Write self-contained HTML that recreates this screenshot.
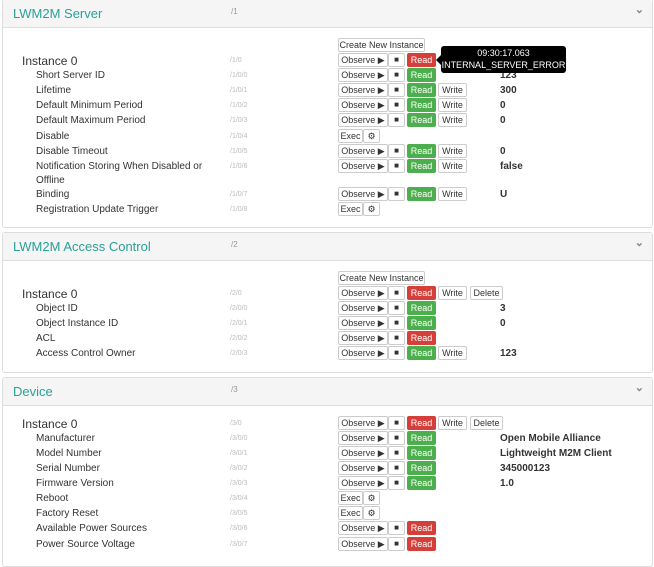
<!DOCTYPE html>
<html><head><meta charset="utf-8"><style>
*{margin:0;padding:0;box-sizing:border-box}
body{width:654px;height:552px;overflow:hidden;background:#fff;font-family:"Liberation Sans",sans-serif;position:relative;color:#333}
.pn{position:absolute;left:2px;width:651px;border:1px solid #ddd;border-radius:3px;background:#fff}
.hd{position:absolute;left:0;right:0;top:0;height:28px;background:#f5f5f5;border-bottom:1px solid #ddd}
.t{position:absolute;left:10px;top:6px;font-size:13px;color:#2aa198}
.hp{position:absolute;left:228px;top:7px;font-size:8px;color:#999}
.cv{position:absolute;right:8px;top:3px;font-size:11px;color:#888;font-weight:bold}
.r{position:absolute;left:0;width:654px;height:14px}
.n{position:absolute;left:36px;top:2px;font-size:10px;white-space:nowrap}
.i{left:22px;font-size:12px;top:1px}
.p{position:absolute;left:230px;top:4px;font-size:7px;color:#bbb}
.b{position:absolute;top:0;height:14px;border:1px solid #ccc;border-radius:2px;font-size:9px;line-height:12px;text-align:center;background:#fff;color:#333}
.ob{left:338px;width:50px}
.st{left:388px;width:17px;font-size:8px}
.rd{left:407px;width:29px;color:#fff;border-color:transparent}
.g{background:#4cae4c}.e{background:#d43f3a}
.wr{left:438px;width:29px}
.dl{left:470px;width:33px}
.ex{left:338px;width:25px}
.gr{left:363px;width:17px}
.v{position:absolute;left:500px;top:2px;font-size:10px;font-weight:bold}
.cr{position:absolute;left:338px;width:87px;height:14px;border:1px solid #ccc;border-radius:2px;font-size:9px;line-height:12px;text-align:center}
</style></head><body>

<div class="pn" style="top:-1px;height:229px"><div class="hd"><span class="t">LWM2M Server</span><span class="hp">/1</span><span class="cv">&#8964;</span></div></div>
<div class="cr" style="top:38px">Create New Instance</div>
<div class="r" style="top:53px"><span class="n i">Instance 0</span><span class="p">/1/0</span><span class="b ob">Observe ▶</span><span class="b st">■</span><span class="b rd e">Read</span></div>
<div class="r" style="top:68px"><span class="n">Short Server ID</span><span class="p">/1/0/0</span><span class="b ob">Observe ▶</span><span class="b st">■</span><span class="b rd g">Read</span><span class="v">123</span></div>
<div class="r" style="top:83px"><span class="n">Lifetime</span><span class="p">/1/0/1</span><span class="b ob">Observe ▶</span><span class="b st">■</span><span class="b rd g">Read</span><span class="b wr">Write</span><span class="v">300</span></div>
<div class="r" style="top:98px"><span class="n">Default Minimum Period</span><span class="p">/1/0/2</span><span class="b ob">Observe ▶</span><span class="b st">■</span><span class="b rd g">Read</span><span class="b wr">Write</span><span class="v">0</span></div>
<div class="r" style="top:113px"><span class="n">Default Maximum Period</span><span class="p">/1/0/3</span><span class="b ob">Observe ▶</span><span class="b st">■</span><span class="b rd g">Read</span><span class="b wr">Write</span><span class="v">0</span></div>
<div class="r" style="top:129px"><span class="n">Disable</span><span class="p">/1/0/4</span><span class="b ex">Exec</span><span class="b gr">⚙</span></div>
<div class="r" style="top:144px"><span class="n">Disable Timeout</span><span class="p">/1/0/5</span><span class="b ob">Observe ▶</span><span class="b st">■</span><span class="b rd g">Read</span><span class="b wr">Write</span><span class="v">0</span></div>
<div class="r" style="top:159px"><span class="n">Notification Storing When Disabled or</span><span class="p">/1/0/6</span><span class="b ob">Observe ▶</span><span class="b st">■</span><span class="b rd g">Read</span><span class="b wr">Write</span><span class="v">false</span></div>
<div class="r" style="top:173px"><span class="n">Offline</span></div>
<div class="r" style="top:187px"><span class="n">Binding</span><span class="p">/1/0/7</span><span class="b ob">Observe ▶</span><span class="b st">■</span><span class="b rd g">Read</span><span class="b wr">Write</span><span class="v">U</span></div>
<div class="r" style="top:202px"><span class="n">Registration Update Trigger</span><span class="p">/1/0/8</span><span class="b ex">Exec</span><span class="b gr">⚙</span></div>

<div style="position:absolute;left:436px;top:55px;width:0;height:0;border:5px solid transparent;border-right-color:#000;border-left:0"></div>
<div style="position:absolute;left:441px;top:46px;width:125px;height:27px;background:#000;border-radius:3px;color:#fff;font-size:9px;text-align:center;line-height:12px;padding-top:1px;white-space:nowrap">09:30:17.063<br>INTERNAL_SERVER_ERROR</div>

<div class="pn" style="top:232px;height:141px"><div class="hd"><span class="t">LWM2M Access Control</span><span class="hp">/2</span><span class="cv">&#8964;</span></div></div>
<div class="cr" style="top:271px">Create New Instance</div>
<div class="r" style="top:286px"><span class="n i">Instance 0</span><span class="p">/2/0</span><span class="b ob">Observe ▶</span><span class="b st">■</span><span class="b rd e">Read</span><span class="b wr">Write</span><span class="b dl">Delete</span></div>
<div class="r" style="top:301px"><span class="n">Object ID</span><span class="p">/2/0/0</span><span class="b ob">Observe ▶</span><span class="b st">■</span><span class="b rd g">Read</span><span class="v">3</span></div>
<div class="r" style="top:316px"><span class="n">Object Instance ID</span><span class="p">/2/0/1</span><span class="b ob">Observe ▶</span><span class="b st">■</span><span class="b rd g">Read</span><span class="v">0</span></div>
<div class="r" style="top:331px"><span class="n">ACL</span><span class="p">/2/0/2</span><span class="b ob">Observe ▶</span><span class="b st">■</span><span class="b rd e">Read</span></div>
<div class="r" style="top:346px"><span class="n">Access Control Owner</span><span class="p">/2/0/3</span><span class="b ob">Observe ▶</span><span class="b st">■</span><span class="b rd g">Read</span><span class="b wr">Write</span><span class="v">123</span></div>

<div class="pn" style="top:377px;height:190px"><div class="hd"><span class="t">Device</span><span class="hp">/3</span><span class="cv">&#8964;</span></div></div>
<div class="r" style="top:416px"><span class="n i">Instance 0</span><span class="p">/3/0</span><span class="b ob">Observe ▶</span><span class="b st">■</span><span class="b rd e">Read</span><span class="b wr">Write</span><span class="b dl">Delete</span></div>
<div class="r" style="top:431px"><span class="n">Manufacturer</span><span class="p">/3/0/0</span><span class="b ob">Observe ▶</span><span class="b st">■</span><span class="b rd g">Read</span><span class="v">Open Mobile Alliance</span></div>
<div class="r" style="top:446px"><span class="n">Model Number</span><span class="p">/3/0/1</span><span class="b ob">Observe ▶</span><span class="b st">■</span><span class="b rd g">Read</span><span class="v">Lightweight M2M Client</span></div>
<div class="r" style="top:461px"><span class="n">Serial Number</span><span class="p">/3/0/2</span><span class="b ob">Observe ▶</span><span class="b st">■</span><span class="b rd g">Read</span><span class="v">345000123</span></div>
<div class="r" style="top:476px"><span class="n">Firmware Version</span><span class="p">/3/0/3</span><span class="b ob">Observe ▶</span><span class="b st">■</span><span class="b rd g">Read</span><span class="v">1.0</span></div>
<div class="r" style="top:491px"><span class="n">Reboot</span><span class="p">/3/0/4</span><span class="b ex">Exec</span><span class="b gr">⚙</span></div>
<div class="r" style="top:506px"><span class="n">Factory Reset</span><span class="p">/3/0/5</span><span class="b ex">Exec</span><span class="b gr">⚙</span></div>
<div class="r" style="top:521px"><span class="n">Available Power Sources</span><span class="p">/3/0/6</span><span class="b ob">Observe ▶</span><span class="b st">■</span><span class="b rd e">Read</span></div>
<div class="r" style="top:537px"><span class="n">Power Source Voltage</span><span class="p">/3/0/7</span><span class="b ob">Observe ▶</span><span class="b st">■</span><span class="b rd e">Read</span></div>
</body></html>
